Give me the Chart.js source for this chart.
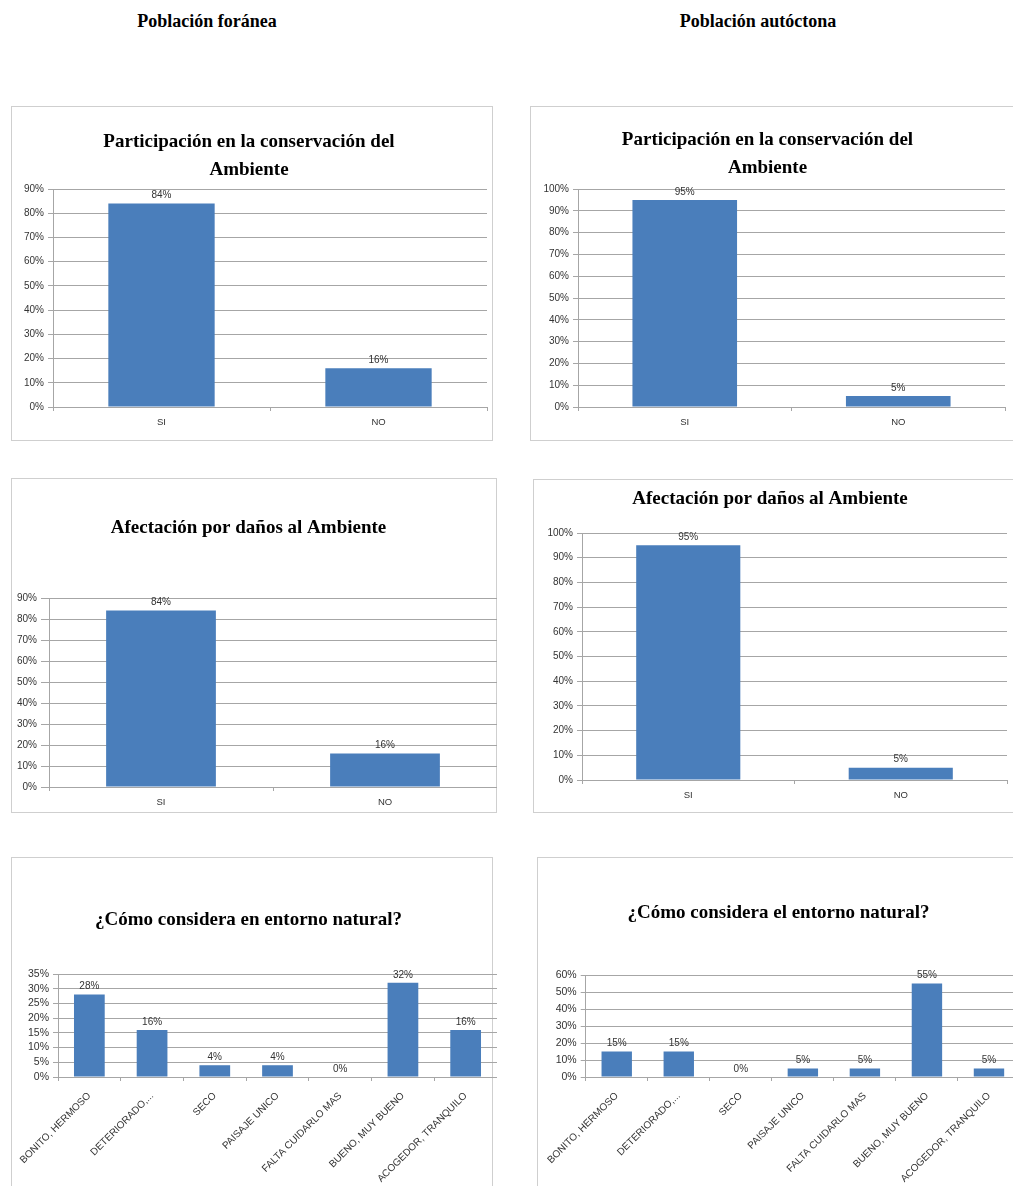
<!DOCTYPE html>
<html lang="es">
<head>
<meta charset="utf-8">
<title>Población foránea y autóctona</title>
<script src="https://cdn.jsdelivr.net/npm/chart.js@4/dist/chart.umd.min.js"></script>
<style>
  body { margin: 0; width: 1013px; height: 1186px; overflow: hidden; position: relative; background: #fff; }
  .header { position: absolute; top: 11px; width: 300px; text-align: center; font: bold 18px "Liberation Serif", serif; color: #000; }
  .box { position: absolute; border: 1px solid #cfcfcf; box-sizing: border-box; }
  canvas { position: absolute; }
</style>
</head>
<body>
<div class="header" style="left:57px">Población foránea</div>
<div class="header" style="left:608px">Población autóctona</div>

<div class="box" style="left:11px;top:106px;width:482px;height:335px"></div>
<div class="box" style="left:530px;top:106px;width:490px;height:335px"></div>
<div class="box" style="left:11px;top:478px;width:486px;height:335px"></div>
<div class="box" style="left:533px;top:479px;width:490px;height:334px"></div>
<div class="box" style="left:11px;top:857px;width:482px;height:340px"></div>
<div class="box" style="left:537px;top:857px;width:490px;height:340px"></div>

<canvas id="chart-1" width="482" height="335" style="left:11px;top:106px"></canvas>
<canvas id="chart-2" width="483" height="335" style="left:530px;top:106px"></canvas>
<canvas id="chart-3" width="497" height="335" style="left:0px;top:478px"></canvas>
<canvas id="chart-4" width="480" height="334" style="left:533px;top:479px"></canvas>
<canvas id="chart-5" width="497" height="329" style="left:0px;top:857px"></canvas>
<canvas id="chart-6" width="483" height="329" style="left:537px;top:857px"></canvas>

<script>
// datos
const siNo = ["SI", "NO"];
const entornoLabels = ["BONITO, HERMOSO", "DETERIORADO,...", "SECO", "PAISAJE UNICO", "FALTA CUIDARLO MAS", "BUENO, MUY BUENO", "ACOGEDOR, TRANQUILO"];

const foraneaParticipacion = [84, 16];
const autoctonaParticipacion = [95, 5];
const foraneaAfectacion = [84, 16];
const autoctonaAfectacion = [95, 5];
const foraneaEntorno = [28, 16, 4, 4, 0, 32, 16];
const autoctonaEntorno = [15, 15, 0, 5, 5, 55, 5];

const tituloParticipacion = ["Participación en la conservación del", "Ambiente"];
const tituloAfectacion = ["Afectación por daños al Ambiente"];
const tituloEntornoForanea = ["¿Cómo considera en entorno natural?"];
const tituloEntornoAutoctona = ["¿Cómo considera el entorno natural?"];

const barColor = "#4a7ebb";
const gridColor = "#a6a6a6";
const textColor = "#333";

// etiquetas de valor encima de cada barra
const valueLabels = {
    id: "valueLabels",
    afterDatasetsDraw(chart) {
        const ctx = chart.ctx;
        const meta = chart.getDatasetMeta(0);
        const data = chart.data.datasets[0].data;
        ctx.save();
        ctx.font = "10px 'Liberation Sans', sans-serif";
        ctx.fillStyle = textColor;
        ctx.textAlign = "center";
        ctx.textBaseline = "bottom";
        meta.data.forEach((bar, i) => {
            ctx.fillText(data[i] + "%", bar.x, bar.y - 3);
        });
        ctx.restore();
    }
};

function makeChart(id, cfg) {
    const canvas = document.getElementById(id);
    return new Chart(canvas, {
        type: "bar",
        data: {
            labels: cfg.labels,
            datasets: [{
                data: cfg.values,
                backgroundColor: barColor,
                barPercentage: cfg.barPct || 0.49,
                categoryPercentage: 1
            }]
        },
        options: {
            responsive: false,
            animation: false,
            layout: { padding: { top: 0, left: 0, right: cfg.padRight, bottom: 0 } },
            plugins: {
                legend: { display: false },
                tooltip: { enabled: false },
                title: {
                    display: true,
                    text: cfg.title,
                    color: "#000",
                    font: { family: "'Liberation Serif', serif", size: 19, weight: "bold", lineHeight: 1.474 },
                    padding: { top: cfg.titleTop, bottom: cfg.titleBottom }
                }
            },
            scales: {
                x: {
                    grid: { display: true, drawOnChartArea: false, drawTicks: true, tickLength: 4, color: gridColor, offset: true },
                    border: { display: true, color: gridColor },
                    ticks: {
                        autoSkip: false,
                        color: textColor,
                        padding: cfg.rotate ? 9 : 6,
                        maxRotation: cfg.rotate ? 45 : 0,
                        minRotation: cfg.rotate ? 45 : 0,
                        font: { family: "'Liberation Sans', sans-serif", size: cfg.rotate ? 10 : 9.5 }
                    },
                    afterFit(scale) { scale.height = cfg.xHeight; }
                },
                y: {
                    min: 0,
                    max: cfg.max,
                    grid: { color: gridColor, tickLength: cfg.tickLen || 5 },
                    border: { display: true, color: gridColor },
                    ticks: {
                        stepSize: cfg.step,
                        autoSkip: false,
                        color: textColor,
                        padding: 4,
                        font: { family: "'Liberation Sans', sans-serif", size: cfg.rotate ? 10.5 : 10 },
                        callback: v => v + "%"
                    },
                    afterFit(scale) { scale.width = cfg.yWidth; }
                }
            }
        },
        plugins: [valueLabels]
    });
}

makeChart("chart-1", {
    labels: siNo, values: foraneaParticipacion, title: tituloParticipacion,
    titleTop: 22, titleBottom: 5, max: 90, step: 10, yWidth: 42, xHeight: 34, padRight: 6
});
makeChart("chart-2", {
    labels: siNo, values: autoctonaParticipacion, title: tituloParticipacion,
    titleTop: 20, titleBottom: 7, max: 100, step: 10, yWidth: 48, xHeight: 34, padRight: 8
});
makeChart("chart-3", {
    labels: siNo, values: foraneaAfectacion, title: tituloAfectacion,
    titleTop: 36, titleBottom: 56, max: 90, step: 10, yWidth: 49, xHeight: 26, padRight: 0, tickLen: 8
});
makeChart("chart-4", {
    labels: siNo, values: autoctonaAfectacion, title: tituloAfectacion,
    titleTop: 6, titleBottom: 20, max: 100, step: 10, yWidth: 49, xHeight: 33, padRight: 6
});
makeChart("chart-5", {
    labels: entornoLabels, values: foraneaEntorno, title: tituloEntornoForanea,
    titleTop: 49, titleBottom: 40, max: 35, step: 5, yWidth: 58, xHeight: 109, padRight: 0, rotate: true
});
makeChart("chart-6", {
    labels: entornoLabels, values: autoctonaEntorno, title: tituloEntornoAutoctona,
    titleTop: 42, titleBottom: 48, max: 60, step: 10, yWidth: 46, xHeight: 109, padRight: 0, rotate: true
});
</script>
</body>
</html>
